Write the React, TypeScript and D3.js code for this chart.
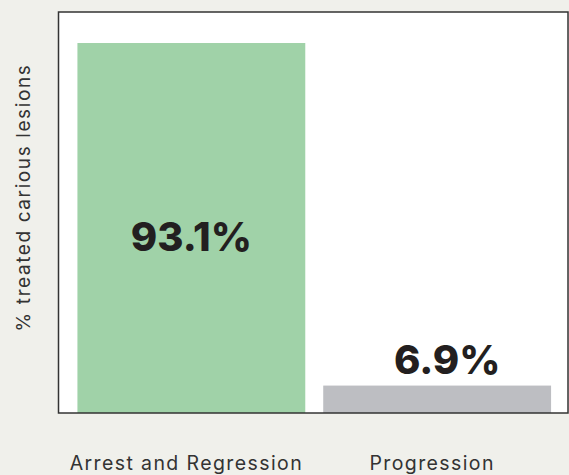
import React from "react";
import * as d3 from "d3";

const categories = ["Arrest and Regression", "Progression"];
const values = [93.1, 6.9];
const valueLabels = ["93.1%", "6.9%"];
const barColors = ["#a0d2a8", "#bdbec2"];
const yLabel = "% treated carious lesions";

const W = 569;
const H = 475;
const plot = { left: 58.5, right: 568, top: 12, bottom: 413 };

export default function App() {
  const x = d3
    .scaleBand<string>()
    .domain(categories)
    .range([plot.left, plot.right + 2])
    .paddingInner(0.073)
    .paddingOuter(0.077);
  const y = d3.scaleLinear().domain([0, 100]).range([plot.bottom, 15.6]);

  const fontBody = "Inter, 'Open Sans', sans-serif";

  return (
    <svg
      width={W}
      height={H}
      style={{ position: "fixed", left: 0, top: 0, background: "#f0f0eb" }}
    >
      <rect x={0} y={0} width={W} height={H} fill="#f0f0eb" />
      <rect
        x={plot.left}
        y={plot.top}
        width={plot.right - plot.left}
        height={plot.bottom - plot.top}
        fill="#ffffff"
      />
      {categories.map((c, i) => {
        const bx = x(c)!;
        const bw = x.bandwidth();
        const by = y(values[i]);
        const bh = plot.bottom - by;
        const inside = bh > 100;
        const ly = inside ? (by + plot.bottom) / 2 + 23 : by - 12;
        const lx = bx + bw / 2 + (inside ? 0 : 10);
        return (
          <g key={c}>
            <rect x={bx} y={by} width={bw} height={bh} fill={barColors[i]} />
            <text
              x={lx}
              y={ly}
              textAnchor="middle"
              fontFamily={fontBody}
              fontWeight={800}
              fontSize={40}
              fill="#231f20"
            >
              {valueLabels[i]}
            </text>
            <text
              x={bx + bw / 2 - 5}
              y={469.5}
              textAnchor="middle"
              fontFamily={fontBody}
              fontWeight={400}
              fontSize={19.5}
              letterSpacing={1.4}
              fill="#333333"
            >
              {c}
            </text>
          </g>
        );
      })}
      <rect
        x={plot.left}
        y={plot.top}
        width={plot.right - plot.left}
        height={plot.bottom - plot.top}
        fill="none"
        stroke="#333333"
        strokeWidth={1.5}
      />
      <text
        transform={`translate(30, ${(plot.top + plot.bottom) / 2 - 15}) rotate(-90)`}
        textAnchor="middle"
        fontFamily={fontBody}
        fontWeight={400}
        fontSize={19}
        letterSpacing={1.6}
        fill="#333333"
      >
        {yLabel}
      </text>
    </svg>
  );
}
